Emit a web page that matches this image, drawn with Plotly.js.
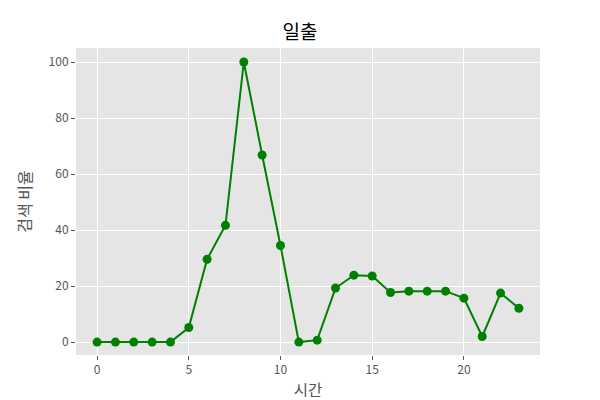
<!DOCTYPE html>
<html>
<head>
<meta charset="utf-8">
<script src="https://cdn.plot.ly/plotly-3.0.1.min.js"></script>
<style>html,body{margin:0;padding:0;background:#fff;}#chart{width:600px;height:400px;}</style>
</head>
<body>
<div id="chart"></div>
<script>
const hours = [0,1,2,3,4,5,6,7,8,9,10,11,12,13,14,15,16,17,18,19,20,21,22,23];
const ratio = [0,0,0,0,0,5.2,29.6,41.7,100,66.8,34.5,0,0.7,19.3,23.9,23.6,17.7,18.2,18.2,18.2,15.7,2.0,17.5,12.1];
const titleText = '일출';
const xTitle = '시간';
const yTitle = '검색 비율';
const FONT = '"Noto Sans CJK KR", "Noto Sans", sans-serif';

Plotly.newPlot('chart', [{
  x: hours, y: ratio, type: 'scatter', mode: 'lines+markers',
  line: {color: '#008000', width: 2},
  marker: {color: '#008000', size: 9}
}], {
  width: 600, height: 400,
  margin: {l: 76, r: 60, t: 48, b: 45},
  paper_bgcolor: '#ffffff', plot_bgcolor: '#E5E5E5',
  font: {family: FONT, color: '#555555'},
  showlegend: false,
  title: {text: titleText, font: {family: FONT, size: 19, color: '#000000'}, x: 0.5, xanchor: 'center', y: 0.918, yanchor: 'middle'},
  xaxis: {
    range: [-1.15, 24.15], tickvals: [0,5,10,15,20], ticktext: ['0','5','10','15','20'],
    showgrid: true, gridcolor: '#ffffff', gridwidth: 1, zeroline: false,
    ticks: 'outside', ticklen: 4, tickcolor: '#555555', tickfont: {size: 12, color: '#555555'},
    showline: false,
    title: {text: xTitle, font: {size: 15.5, color: '#555555'}, standoff: 8}
  },
  yaxis: {
    range: [-4.6, 105], tickvals: [0,20,40,60,80,100], ticktext: ['0','20','40','60','80','100'],
    showgrid: true, gridcolor: '#ffffff', gridwidth: 1, zeroline: false,
    ticks: 'outside', ticklen: 4, tickcolor: '#555555', tickfont: {size: 12, color: '#555555'},
    showline: false,
    title: {text: yTitle, font: {size: 16, color: '#555555'}, standoff: 13}
  }
}, {displayModeBar: false, staticPlot: true});
</script>
</body>
</html>
